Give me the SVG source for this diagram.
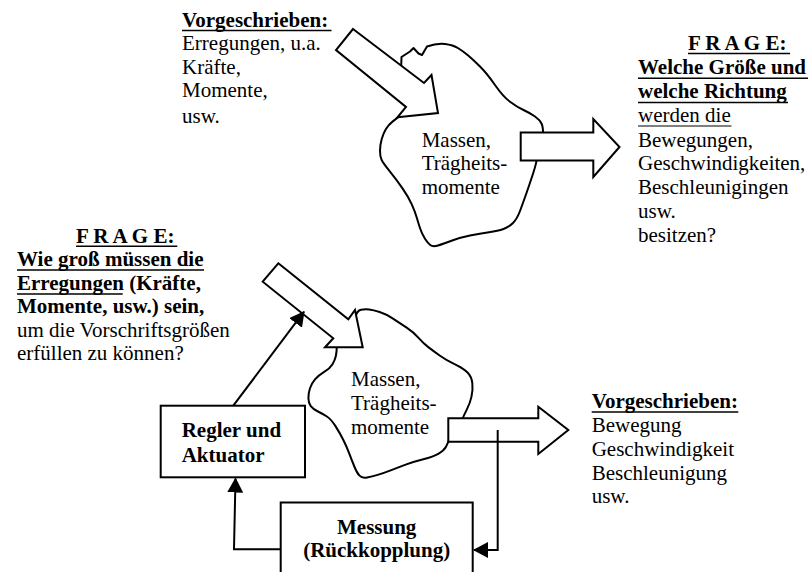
<svg xmlns="http://www.w3.org/2000/svg" width="812" height="572" viewBox="0 0 812 572">
<style>
text{font-family:"Liberation Serif","Times New Roman",serif;font-size:21px;fill:#000}
.b{font-weight:bold}
.blob{fill:none;stroke:#000;stroke-width:2;stroke-linejoin:round;stroke-linecap:round}
.barrow{fill:#fff;stroke:#000;stroke-width:2;stroke-linejoin:miter}
.box{fill:#fff;stroke:#000;stroke-width:2}
.ul{stroke:#000;stroke-width:1.6}
.ul1{stroke:#000;stroke-width:1}
.con{fill:none;stroke:#000;stroke-width:2}
</style>
<defs>
<marker id="ah" markerUnits="userSpaceOnUse" markerWidth="16" markerHeight="16" refX="14" refY="8" orient="auto" viewBox="0 0 16 16">
<path d="M0,0 L15,8 L0,16 z" fill="#000"/>
</marker>
</defs>
<rect width="812" height="572" fill="#fff"/>

<g id="text-vorgeschrieben-oben">
<text x="182" y="26.5" class="b">Vorgeschrieben:</text>
<line class="ul" x1="182" y1="30.5" x2="331.5" y2="30.5"/>
<text x="182" y="50">Erregungen, u.a.</text>
<text x="182" y="73.5">Kräfte,</text>
<text x="182" y="96.5">Momente,</text>
<text x="182" y="123">usw.</text>
</g>

<g id="text-frage-rechts">
<text x="688" y="50" class="b">F R A G E:</text>
<line class="ul" x1="688" y1="53.5" x2="790" y2="53.5"/>
<text x="638" y="74.3" class="b">Welche Größe und</text>
<line class="ul" x1="638" y1="78.3" x2="808" y2="78.3"/>
<text x="638" y="98.3" class="b">welche Richtung</text>
<line class="ul" x1="638" y1="102.5" x2="788" y2="102.5"/>
<text x="638" y="122.3">werden die</text>
<line class="ul1" x1="638" y1="126" x2="731.5" y2="126"/>
<text x="638" y="146.7">Bewegungen,</text>
<text x="638" y="170">Geschwindigkeiten,</text>
<text x="638" y="194.3">Beschleunigingen</text>
<text x="638" y="217.7">usw.</text>
<text x="638" y="241.7">besitzen?</text>
</g>

<g id="text-frage-links">
<text x="76" y="243" class="b">F R A G E:</text>
<line class="ul" x1="76" y1="246.3" x2="177.3" y2="246.3"/>
<text x="17" y="266" class="b">Wie groß müssen die</text>
<line class="ul" x1="17" y1="270" x2="204" y2="270"/>
<text x="17" y="290" class="b">Erregungen (Kräfte,</text>
<line class="ul" x1="17" y1="294" x2="122.7" y2="294"/>
<text x="17" y="313.3" class="b">Momente, usw.) sein,</text>
<text x="17" y="336.7">um die Vorschriftsgrößen</text>
<text x="17" y="360">erfüllen zu können?</text>
</g>

<g id="text-vorgeschrieben-unten">
<text x="591.7" y="408.3" class="b">Vorgeschrieben:</text>
<line class="ul" x1="591.7" y1="412" x2="738.3" y2="412"/>
<text x="591.7" y="431.7">Bewegung</text>
<text x="591.7" y="456">Geschwindigkeit</text>
<text x="591.7" y="480">Beschleunigung</text>
<text x="591.7" y="503.3">usw.</text>
</g>

<g id="masse-oben">
<path class="blob" d="M401,72 L401.5,57 L410,51.5 L413.5,48 L418.5,53.5 L422,55 L427,46.5 Q437,43 445,44 Q453,45 458.25,48.25 Q463.5,51.5 468.5,55.75 Q473.5,60 480.25,66.75 Q487,73.5 495,85 Q503,96.5 510,101.75 Q517,107 523.5,110 Q530,113 535,116.5 Q540,120 541.75,124 Q543.5,128 543,140"/>
<path class="blob" d="M538,150 L537.25,156.5 Q536.5,163 533.25,173 Q530,183 526.5,193 Q523,203 520,211 Q517,219 513,223 Q509,227 503.5,229 Q498,231 489,232.25 Q480,233.5 470,235.5 Q460,237.5 451.5,240.75 Q443,244 438,245.5 Q433,247 430.5,245.25 Q428,243.5 425,238.75 Q422,234 420.15,228.5 Q418.3,223 416.65,217.25 Q415,211.5 411.65,204.1 Q408.3,196.7 402.5,188.35 Q396.7,180 390,171.65 Q383.3,163.3 381.65,160 Q380,156.7 380,150.85 Q380,145 381.65,139.15 Q383.3,133.3 385.8,129.15 Q388.3,125 392.5,121.65 Q396.7,118.3 400.35,115.65 L404,113"/>
<text x="421.7" y="146.5">Massen,</text>
<text x="421.7" y="170">Trägheits-</text>
<text x="421.7" y="193.5">momente</text>
</g>

<g id="masse-unten">
<path class="blob" d="M353,325 L355,317.75 Q357,310.5 361,309.75 Q365,309 369.15,309.5 Q373.3,310 379.65,312 Q386,314 393,318.65 Q400,323.3 406.65,327.65 Q413.3,332 418.3,337.65 Q423.3,343.3 428.3,347.15 Q433.3,351 440,355.75 Q446.7,360.5 455,364.4 Q463.3,368.3 467.5,372.5 Q471.7,376.7 472.35,383.35 Q473,390 471.5,396.65 Q470,403.3 467,409.15 Q464,415 462,420 L460,425"/>
<path class="blob" d="M337,340 L336.85,346 Q336.7,352 335.85,356 Q335,360 332.5,364.15 Q330,368.3 324.15,371.9 Q318.3,375.5 315,379.4 Q311.7,383.3 310,388.3 Q308.3,393.3 308.4,398.3 Q308.5,403.3 310.75,406.15 Q313,409 317.5,411.25 Q322,413.5 326.5,416.25 Q331,419 335.5,426.15 Q340,433.3 343.35,440 Q346.7,446.7 349.2,453.35 Q351.7,460 354.35,466.5 Q357,473 359.5,475.65 Q362,478.3 367,477.4 Q372,476.5 377.65,474.9 Q383.3,473.3 390.65,470.4 Q398,467.5 405.65,464.6 Q413.3,461.7 423.3,459.2 Q433.3,456.7 438.65,453.6 Q444,450.5 446,446.75 Q448,443 450,437.5 L452,432"/>
<text x="351" y="385.5">Massen,</text>
<text x="351" y="410">Trägheits-</text>
<text x="351" y="434">momente</text>
</g>

<g id="pfeil-erregung-oben">
<polygon class="barrow" points="353,29 424,83 431.5,75 438,113 397.5,117.3 406,107 336,50"/>
</g>
<g id="pfeil-antwort-oben">
<polygon class="barrow" points="520.7,132.5 593.3,132.5 593.3,119 619.5,147 593.3,177 593.3,160.5 520.7,160.5"/>
</g>
<g id="pfeil-erregung-unten">
<polygon class="barrow" points="278.3,263.3 348.3,319.3 355,310 362.7,347.3 325,347.3 333.3,338.3 262.7,281.7"/>
</g>
<g id="pfeil-antwort-unten">
<polygon class="barrow" points="448.3,418.3 538.3,418.3 538.3,406.7 568.3,430 538.3,454 538.3,441.7 448.3,441.7"/>
</g>

<g id="regler">
<rect class="box" x="160.7" y="405.7" width="144.3" height="71.6"/>
<text x="181.7" y="436.7" class="b">Regler und</text>
<text x="181.7" y="461.7" class="b">Aktuator</text>
</g>

<g id="messung">
<rect class="box" x="280.7" y="502.5" width="192" height="100"/>
<text x="376.7" y="534" class="b" text-anchor="middle">Messung</text>
<text x="376.7" y="556.7" class="b" text-anchor="middle">(Rückkopplung)</text>
</g>

<g id="connectors">
<line class="con" x1="233.3" y1="405.7" x2="304" y2="311.7" marker-end="url(#ah)"/>
<polyline class="con" points="280.7,549.3 234,549.3 235.5,478.5" marker-end="url(#ah)"/>
<polyline class="con" points="497.7,430 497.7,550 474,550" marker-end="url(#ah)"/>
</g>
</svg>
